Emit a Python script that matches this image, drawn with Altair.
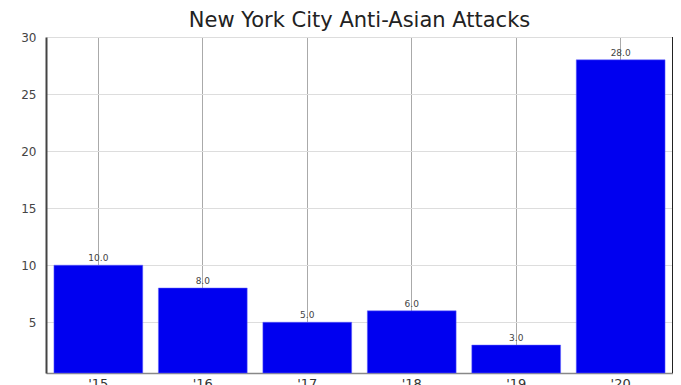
import altair as alt
import pandas as pd

years = ["'15", "'16", "'17", "'18", "'19", "'20"]
attacks = [10, 8, 5, 6, 3, 28]

df = pd.DataFrame({"year": years, "attacks": attacks})
df["label"] = [f"{v:.1f}" for v in attacks]

W, H = 627, 336

x = alt.X("year:N", sort=years, title=None,
          scale=alt.Scale(paddingInner=0.15, paddingOuter=0.076),
          axis=alt.Axis(labelAngle=0, labelFont="DejaVu Sans", labelFontSize=13,
                        labelColor="#333", ticks=False, labelPadding=4,
                        domainColor="#888", domainWidth=1.5,
                        grid=True, gridColor="#aaa", gridWidth=1, bandPosition=0.5))
y = alt.Y("attacks:Q", title=None,
          scale=alt.Scale(domain=[0.55, 30], zero=False, nice=False, clamp=True),
          axis=alt.Axis(values=[5, 10, 15, 20, 25, 30], labelFont="DejaVu Sans",
                        labelFontSize=12, labelColor="#444", ticks=False,
                        labelPadding=10, domainColor="#444", domainWidth=2,
                        gridColor="#ddd", gridWidth=1))

bars = alt.Chart(df).mark_bar(color="#0000f0", stroke="#6666ff", strokeWidth=0.5).encode(
    x=x, y=y, y2=alt.datum(0.55))

text = alt.Chart(df).mark_text(baseline="bottom", dy=-2, fontSize=9, font="DejaVu Sans",
                               color="#444").encode(
    x=alt.X("year:N", sort=years), y="attacks:Q", text="label:N")

border = alt.Chart(df).mark_rule(color="#222", strokeWidth=2).encode(
    x=alt.value(W), y=alt.value(0), y2=alt.value(H))

chart = alt.layer(bars, text, border).properties(
    width=W, height=H,
    title=alt.TitleParams("New York City Anti-Asian Attacks", font="DejaVu Sans",
                          fontSize=21, fontWeight="normal", color="#222", offset=0),
    autosize=alt.AutoSizeParams(type="none"),
    padding={"left": 38, "top": 29, "right": 0, "bottom": 25},
).configure_view(stroke=None)

chart.save("out.html", embed_options={"renderer": "svg", "actions": False})
